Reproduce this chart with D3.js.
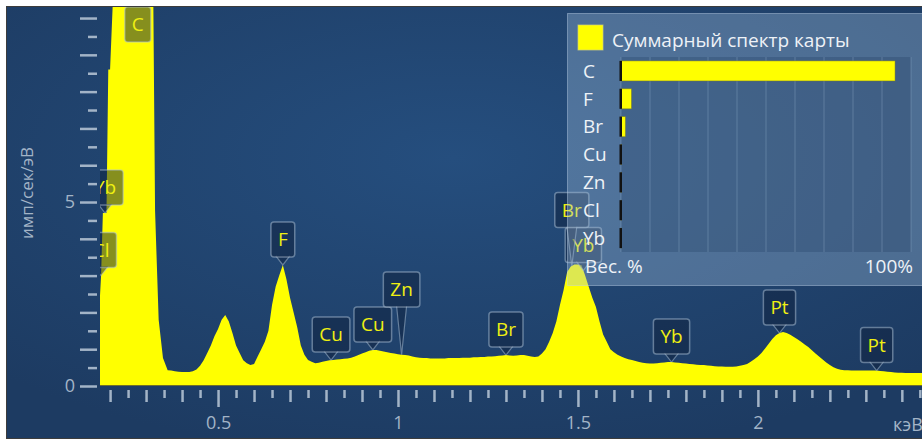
<!DOCTYPE html>
<html>
<head>
<meta charset="utf-8">
<script src="https://cdn.jsdelivr.net/npm/d3@7"></script>
<style>
  body { margin: 0; background: #fff; }
  text { font-family: "Open Sans", "Noto Sans", sans-serif; }
</style>
</head>
<body>
<svg id="chart" width="922" height="441"></svg>
<script>
// spectrum: energy (keV) and intensity (imp/sec/eV)
var spectrumKeV = [0.17, 0.175, 0.18, 0.19, 0.195, 0.20, 0.21, 0.22, 0.23, 0.24, 0.25, 0.26, 0.27, 0.28, 0.29, 0.30, 0.31, 0.32, 0.325, 0.335, 0.347, 0.36,
    0.37, 0.38, 0.39, 0.40, 0.41, 0.42, 0.43, 0.44, 0.45, 0.46, 0.47, 0.48, 0.49, 0.50, 0.51, 0.52, 0.53, 0.54, 0.55, 0.56, 0.57, 0.58, 0.59, 0.60,
    0.61, 0.62, 0.63, 0.64, 0.65, 0.66, 0.67, 0.68, 0.69, 0.70, 0.71, 0.72, 0.73, 0.74, 0.75, 0.76, 0.77, 0.78, 0.79, 0.80,
    0.81, 0.82, 0.83, 0.84, 0.85, 0.86, 0.87, 0.88, 0.89, 0.90, 0.91, 0.92, 0.93, 0.94, 0.95, 0.96, 0.97, 0.98, 0.99, 1.00,
    1.01, 1.02, 1.03, 1.04, 1.05, 1.06, 1.07, 1.08, 1.09, 1.10, 1.11, 1.12, 1.13, 1.14, 1.15, 1.16, 1.17, 1.18, 1.19, 1.20,
    1.21, 1.22, 1.23, 1.24, 1.25, 1.26, 1.27, 1.28, 1.29, 1.30, 1.31, 1.32, 1.33, 1.34, 1.35, 1.36, 1.37, 1.38, 1.39, 1.40,
    1.41, 1.42, 1.43, 1.44, 1.45, 1.46, 1.47, 1.48, 1.49, 1.50, 1.51, 1.52, 1.53, 1.54, 1.55, 1.56, 1.57, 1.58, 1.59, 1.60,
    1.61, 1.62, 1.63, 1.64, 1.65, 1.66, 1.67, 1.68, 1.69, 1.70, 1.71, 1.72, 1.73, 1.74, 1.75, 1.76, 1.77, 1.78, 1.79, 1.80,
    1.81, 1.82, 1.83, 1.84, 1.85, 1.86, 1.87, 1.88, 1.89, 1.90, 1.91, 1.92, 1.93, 1.94, 1.95, 1.96, 1.97, 1.98, 1.99, 2.00,
    2.01, 2.02, 2.03, 2.04, 2.05, 2.06, 2.07, 2.08, 2.09, 2.10, 2.11, 2.12, 2.13, 2.14, 2.15, 2.16, 2.17, 2.18, 2.19, 2.20,
    2.21, 2.22, 2.23, 2.24, 2.25, 2.26, 2.27, 2.28, 2.29, 2.30, 2.31, 2.32, 2.33, 2.34, 2.35, 2.36, 2.37, 2.38, 2.39, 2.40,
    2.41, 2.42, 2.43, 2.44, 2.45, 2.46];
var spectrumCps = [2.1, 3.0, 4.7, 4.7, 8.6, 8.6, 12, 16, 20, 24, 26, 25, 22, 18, 14, 12, 11, 10.6, 4.76, 1.8, 0.76, 0.43,
    0.42, 0.40, 0.39, 0.38, 0.38, 0.38, 0.40, 0.45, 0.55, 0.70, 0.90, 1.10, 1.35, 1.55, 1.80, 1.93, 1.75, 1.44, 1.10, 0.90, 0.70, 0.62, 0.57, 0.60,
    0.80, 1.00, 1.20, 1.50, 2.20, 2.70, 3.00, 3.29, 2.90, 2.40, 2.00, 1.60, 1.10, 0.85, 0.71, 0.66, 0.62, 0.63, 0.66, 0.68,
    0.70, 0.71, 0.72, 0.73, 0.74, 0.75, 0.77, 0.80, 0.84, 0.88, 0.92, 0.96, 0.98, 0.98, 0.96, 0.94, 0.92, 0.90, 0.88, 0.86,
    0.85, 0.84, 0.83, 0.80, 0.78, 0.77, 0.76, 0.76, 0.75, 0.75, 0.75, 0.75, 0.75, 0.76, 0.76, 0.76, 0.76, 0.77, 0.77, 0.77,
    0.78, 0.78, 0.79, 0.79, 0.80, 0.80, 0.81, 0.82, 0.83, 0.84, 0.83, 0.82, 0.83, 0.84, 0.84, 0.82, 0.80, 0.79, 0.80, 0.88,
    1.00, 1.20, 1.44, 1.75, 2.20, 2.60, 3.10, 3.25, 3.30, 3.30, 3.28, 3.00, 2.70, 2.40, 2.15, 1.75, 1.40, 1.20, 1.00, 0.92,
    0.85, 0.80, 0.76, 0.73, 0.71, 0.68, 0.65, 0.63, 0.62, 0.61, 0.61, 0.62, 0.63, 0.64, 0.65, 0.65, 0.64, 0.63, 0.62, 0.61,
    0.60, 0.59, 0.58, 0.57, 0.57, 0.56, 0.55, 0.54, 0.53, 0.53, 0.52, 0.52, 0.52, 0.53, 0.55, 0.57, 0.60, 0.66, 0.73, 0.80,
    0.90, 1.02, 1.15, 1.28, 1.38, 1.44, 1.47, 1.44, 1.39, 1.33, 1.27, 1.20, 1.13, 1.06, 0.97, 0.88, 0.80, 0.72, 0.64, 0.57,
    0.51, 0.47, 0.44, 0.43, 0.43, 0.42, 0.42, 0.42, 0.42, 0.42, 0.42, 0.42, 0.42, 0.41, 0.40, 0.39, 0.38, 0.37, 0.36, 0.36,
    0.35, 0.35, 0.35, 0.35, 0.35, 0.35];

// peak markers (placed in this order, later ones are lifted if they collide)
var markerNames = ["C", "Yb", "Cl", "F", "Cu", "Cu", "Zn", "Br", "Yb", "Br", "Yb", "Pt", "Pt"];
var markerKeV = [0.277, 0.186, 0.175, 0.68, 0.814, 0.93, 1.01, 1.30, 1.515, 1.483, 1.76, 2.06, 2.33];

// legend: map sum spectrum composition
var elements = ["C", "F", "Br", "Cu", "Zn", "Cl", "Yb"];
var weightPct = [94.5, 3.6, 1.5, 0.2, 0.1, 0.05, 0.05];

var xTickLabels = [0.5, 1, 1.5, 2];
var yTickLabels = [0, 5];

var svg = d3.select("#chart");
var plot = {left: 100, top: 7, right: 922, bottom: 386};

var x = d3.scaleLinear().domain([0.172, 2.456]).range([plot.left, plot.right]);
var y = d3.scaleLinear().domain([0, 10.3]).range([plot.bottom, plot.top]);

var defs = svg.append("defs");
var bg = defs.append("radialGradient").attr("id", "bg")
    .attr("cx", "48%").attr("cy", "35%").attr("r", "70%");
bg.append("stop").attr("offset", "0%").attr("stop-color", "#254e7e");
bg.append("stop").attr("offset", "100%").attr("stop-color", "#1d3b62");

defs.append("clipPath").attr("id", "plotclip").append("rect")
    .attr("x", plot.left).attr("y", plot.top)
    .attr("width", plot.right - plot.left).attr("height", plot.bottom - plot.top);

// panel
svg.append("rect")
    .attr("x", 6.5).attr("y", 6.5).attr("width", 930).attr("height", 432)
    .attr("fill", "url(#bg)").attr("stroke", "#3c3c3c").attr("stroke-width", 1);

var spectrum = spectrumKeV.map(function (e, i) { return {e: e, c: spectrumCps[i]}; });

var area = d3.area()
    .x(function (d) { return x(d.e); })
    .y0(y(0))
    .y1(function (d) { return y(Math.min(d.c, 11)); })
    .curve(d3.curveLinear);

var gPlot = svg.append("g").attr("clip-path", "url(#plotclip)");
gPlot.append("path").datum(spectrum)
    .attr("d", area)
    .attr("fill", "#ffff00");
gPlot.append("line")
    .attr("x1", plot.left).attr("x2", plot.right)
    .attr("y1", plot.bottom - 0.5).attr("y2", plot.bottom - 0.5)
    .attr("stroke", "#6e6e2c").attr("stroke-width", 1);

// axes
var axisColor = "#a3b4c7";

function styleAxis(g) {
    g.select(".domain").remove();
    g.selectAll(".tick line").attr("stroke", axisColor).attr("stroke-width", 2.5);
    g.selectAll(".tick text").attr("fill", axisColor).style("font-size", "18px");
}

var xAll = d3.range(4, 50).map(function (i) { return +(i * 0.05).toFixed(2); });
var xShort = xAll.filter(function (v, i) { return i % 2 === 1; });
var xMid = xAll.filter(function (v, i) { return i % 2 === 0 && xTickLabels.indexOf(v) < 0; });

svg.append("g").attr("transform", "translate(0,390)")
    .call(d3.axisBottom(x).tickValues(xShort).tickSize(8).tickFormat(""))
    .call(styleAxis);
svg.append("g").attr("transform", "translate(0,390)")
    .call(d3.axisBottom(x).tickValues(xMid).tickSize(12).tickFormat(""))
    .call(styleAxis);
svg.append("g").attr("transform", "translate(0,390)")
    .call(d3.axisBottom(x).tickValues(xTickLabels).tickSize(17).tickFormat(d3.format("")))
    .call(styleAxis)
    .call(function (g) { g.selectAll(".tick text").attr("y", 26).attr("dy", "0.71em"); });

var yHalf = d3.range(1, 21).map(function (i) { return i * 0.5; })
    .filter(function (v) { return v % 1 !== 0; });
var yInt = d3.range(0, 11).filter(function (v) { return yTickLabels.indexOf(v) < 0; });

svg.append("g").attr("transform", "translate(97,0)")
    .call(d3.axisLeft(y).tickValues(yHalf).tickSize(9).tickFormat(""))
    .call(styleAxis);
svg.append("g").attr("transform", "translate(97,0)")
    .call(d3.axisLeft(y).tickValues(yInt).tickSize(17).tickFormat(""))
    .call(styleAxis);
svg.append("g").attr("transform", "translate(97,0)")
    .call(d3.axisLeft(y).tickValues(yTickLabels).tickSize(17).tickPadding(5).tickFormat(d3.format("")))
    .call(styleAxis);

svg.append("text")
    .attr("transform", "translate(33,193) rotate(-90)")
    .attr("text-anchor", "middle")
    .attr("fill", axisColor)
    .style("font-size", "17px")
    .text("имп/сек/эВ");

svg.append("text")
    .attr("x", 893).attr("y", 431)
    .attr("fill", axisColor)
    .style("font-size", "18px")
    .text("кэВ");

// peak markers
function cpsAt(e) {
    var i = Math.max(0, d3.bisectRight(spectrumKeV, e) - 1);
    if (i >= spectrumKeV.length - 1) return spectrumCps[i];
    var t = (e - spectrumKeV[i]) / (spectrumKeV[i + 1] - spectrumKeV[i]);
    return spectrumCps[i] + t * (spectrumCps[i + 1] - spectrumCps[i]);
}

var gMarks = svg.append("g").attr("clip-path", "url(#plotclip)");
var placed = [];
var boxH = 35, tipH = 8;

markerNames.forEach(function (name, i) {
    var cx = x(markerKeV[i]);
    var tipY = y(cpsAt(markerKeV[i]));
    var g = gMarks.append("g");
    var t = g.append("text")
        .attr("text-anchor", "middle")
        .attr("fill", "#efef12")
        .style("font-size", "19px")
        .text(name);
    var w = t.node().getComputedTextLength() + 14;
    var bottom = tipY - tipH;
    if (bottom - boxH < plot.top) bottom = plot.top + boxH;
    var box = {x0: cx - w / 2, x1: cx + w / 2, top: bottom - boxH, bottom: bottom};
    var moved = true;
    while (moved) {
        moved = false;
        placed.forEach(function (p) {
            if (box.x0 < p.x1 && box.x1 > p.x0 && box.top < p.bottom && box.bottom > p.top) {
                box.bottom = p.top;
                box.top = p.top - boxH;
                moved = true;
            }
        });
    }
    placed.push(box);

    var fill = "rgba(14,32,60,0.5)", edge = "rgba(175,195,215,0.5)";
    if (tipY > box.bottom) {
        var half = tipY - box.bottom > 15 ? 5 : 7;
        g.insert("path", "text")
            .attr("d", "M" + (cx - half) + "," + (box.bottom - 1) + "L" + cx + "," + tipY + "L" + (cx + half) + "," + (box.bottom - 1))
            .attr("fill", fill).attr("stroke", edge).attr("stroke-width", 1.2);
    }
    g.insert("rect", "text")
        .attr("x", box.x0).attr("y", box.top)
        .attr("width", w).attr("height", boxH)
        .attr("rx", 3)
        .attr("fill", fill).attr("stroke", edge).attr("stroke-width", 1.5);
    t.attr("x", cx).attr("y", box.top + boxH / 2).attr("dy", "0.36em");
});

// legend panel
var lg = svg.append("g");
lg.append("rect")
    .attr("x", 567.5).attr("y", 13.5).attr("width", 380).attr("height", 272)
    .attr("fill", "rgba(160,190,222,0.36)")
    .attr("stroke", "rgba(190,210,232,0.45)");

lg.append("rect")
    .attr("x", 578).attr("y", 25).attr("width", 25).attr("height", 25)
    .attr("fill", "#ffff00").attr("stroke", "rgba(210,210,120,0.7)");
lg.append("text")
    .attr("x", 612).attr("y", 47)
    .attr("fill", "#eef2f7")
    .style("font-size", "19px")
    .text("Суммарный спектр карты");

var lx = d3.scaleLinear().domain([0, 100]).range([621, 911]);
var ly = d3.scaleBand().domain(elements).range([57, 252]).paddingInner(0.28).paddingOuter(0.14);

lg.append("rect")
    .attr("x", lx(0)).attr("y", 57).attr("width", lx(100) - lx(0)).attr("height", 195)
    .attr("fill", "rgba(20,45,80,0.22)");
lg.selectAll(".grid").data(d3.range(0, 101, 10)).enter().append("line")
    .attr("x1", function (d) { return lx(d); }).attr("x2", function (d) { return lx(d); })
    .attr("y1", 57).attr("y2", 252)
    .attr("stroke", "rgba(150,178,208,0.35)").attr("stroke-width", 1);

lg.selectAll(".bar").data(elements).enter().append("rect")
    .attr("x", lx(0)).attr("y", function (d) { return ly(d); })
    .attr("width", function (d, i) { return lx(weightPct[i]) - lx(0); })
    .attr("height", ly.bandwidth())
    .attr("fill", "#ffff00").attr("stroke", "rgba(120,120,40,0.6)").attr("stroke-width", 0.8);
lg.selectAll(".zero").data(elements).enter().append("rect")
    .attr("x", lx(0) - 1.5).attr("y", function (d) { return ly(d); })
    .attr("width", 2.5).attr("height", ly.bandwidth())
    .attr("fill", "#111");
lg.selectAll(".lab").data(elements).enter().append("text")
    .attr("x", 583).attr("y", function (d) { return ly(d) + ly.bandwidth() / 2; })
    .attr("dy", "0.36em")
    .attr("fill", "#eef2f7")
    .style("font-size", "19px")
    .text(function (d) { return d; });

lg.append("text").attr("x", 585).attr("y", 273)
    .attr("fill", "#eef2f7").style("font-size", "19px").text("Вес. %");
lg.append("text").attr("x", 913).attr("y", 273).attr("text-anchor", "end")
    .attr("fill", "#eef2f7").style("font-size", "19px").text("100%");
</script>
</body>
</html>
